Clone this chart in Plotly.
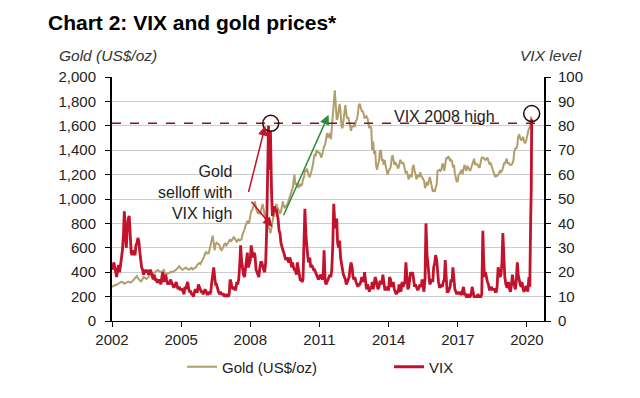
import pandas as pd
import plotly.graph_objects as go

# ---------------- data (semi-monthly: 1st and 15th of each month) ----------------
years = ["2002", "2005", "2008", "2011", "2014", "2017", "2020"]

vix = [
    # 2002
    21, 23, 24, 22, 19, 18, 21, 23, 20, 22, 26, 29, 35, 45, 33, 30, 38, 42, 43, 34, 28, 27, 29, 28,
    # 2003
    27, 31, 32, 34, 33, 29, 25, 22, 21, 19, 20, 21, 20, 21, 19, 20, 21, 20, 18, 17, 19, 17, 17, 16,
    # 2004
    16, 17, 16, 15, 18, 20, 16, 17, 19, 17, 15, 16, 15, 17, 16, 15, 14, 14, 15, 16, 14, 13, 14, 13,
    # 2005
    13, 13, 12, 11, 14, 13, 15, 16, 13, 12, 12, 11, 11, 10, 12, 13, 12, 12, 15, 14, 13, 12, 12, 11,
    # 2006
    12, 13, 12, 11, 11, 12, 11, 12, 16, 19, 22, 18, 15, 15, 13, 12, 11, 12, 11, 11, 11, 10, 11, 10,
    # 2007
    11, 10, 11, 17, 16, 14, 13, 14, 13, 13, 16, 15, 17, 22, 31, 25, 21, 19, 18, 21, 25, 28, 22, 23,
    # 2008
    25, 31, 27, 26, 28, 27, 21, 20, 19, 18, 22, 24, 24, 22, 21, 20, 24, 36, 58, 80, 62, 78, 55, 43,
    # 2009
    45, 47, 45, 46, 44, 42, 37, 36, 32, 30, 29, 28, 26, 25, 26, 25, 24, 26, 25, 22, 24, 22, 21, 21,
    # 2010
    19, 24, 21, 20, 17, 17, 16, 17, 32, 46, 35, 30, 26, 24, 26, 22, 23, 22, 21, 21, 20, 19, 18, 17,
    # 2011
    18, 19, 18, 17, 19, 29, 16, 15, 16, 17, 18, 19, 18, 21, 32, 48, 40, 38, 42, 32, 30, 33, 26, 23,
    # 2012
    21, 19, 18, 17, 15, 16, 17, 18, 22, 24, 22, 18, 17, 18, 16, 15, 14, 15, 15, 16, 18, 17, 16, 20,
    # 2013
    14, 13, 15, 13, 12, 14, 13, 16, 13, 15, 18, 17, 14, 13, 14, 16, 16, 15, 19, 15, 13, 13, 14, 13,
    # 2014
    13, 18, 17, 14, 15, 16, 13, 12, 11, 12, 12, 15, 13, 12, 16, 14, 15, 16, 24, 16, 13, 14, 17, 20,
    # 2015
    19, 20, 17, 14, 15, 14, 13, 13, 14, 15, 14, 17, 14, 12, 18, 40, 27, 23, 17, 15, 16, 17, 16, 22,
    # 2016
    24, 27, 25, 20, 16, 14, 14, 15, 14, 16, 17, 25, 14, 12, 12, 13, 14, 17, 16, 22, 14, 13, 12, 11,
    # 2017
    12, 11, 12, 11, 11, 13, 14, 11, 11, 10, 10, 11, 10, 10, 11, 14, 11, 10, 10, 10, 10, 11, 10, 10,
    # 2018
    10, 11, 37, 24, 18, 20, 17, 16, 15, 13, 13, 14, 13, 13, 13, 12, 12, 14, 22, 20, 18, 19, 24, 36,
    # 2019
    20, 18, 15, 14, 14, 16, 13, 12, 15, 19, 16, 15, 13, 16, 24, 19, 16, 15, 14, 16, 13, 12, 13, 14,
    # 2020 (Jan-Feb)
    14, 12, 18, 14,
]

gold = [
    # 2002
    279, 284, 296, 296, 292, 297, 302, 307, 312, 322, 323, 318, 316, 305, 310, 312, 318, 322, 318, 314, 318, 323, 331, 342,
    # 2003
    350, 360, 368, 352, 340, 330, 325, 330, 352, 360, 356, 348, 345, 352, 360, 370, 380, 375, 378, 385, 394, 398, 410, 413,
    # 2004
    418, 408, 402, 404, 398, 410, 418, 395, 384, 383, 392, 394, 393, 402, 400, 405, 404, 410, 415, 424, 430, 440, 450, 440,
    # 2005
    428, 422, 422, 428, 433, 438, 430, 425, 420, 425, 432, 436, 423, 425, 433, 440, 445, 462, 467, 475, 466, 480, 495, 520,
    # 2006
    530, 555, 565, 555, 552, 558, 595, 625, 680, 700, 635, 580, 630, 640, 635, 625, 620, 590, 580, 590, 625, 630, 635, 620,
    # 2007
    630, 640, 660, 670, 650, 660, 680, 690, 675, 660, 650, 660, 670, 660, 670, 670, 710, 725, 750, 780, 795, 820, 800, 810,
    # 2008
    860, 900, 910, 940, 970, 980, 920, 900, 880, 890, 880, 900, 930, 960, 910, 850, 820, 800, 840, 780, 740, 720, 760, 830,
    # 2009
    860, 860, 920, 960, 940, 920, 900, 880, 900, 950, 980, 940, 930, 940, 950, 960, 990, 1010, 1040, 1060, 1090, 1140, 1200, 1120,
    # 2010
    1120, 1130, 1090, 1110, 1120, 1110, 1120, 1160, 1180, 1230, 1230, 1250, 1210, 1190, 1180, 1220, 1240, 1270, 1310, 1370, 1350, 1400, 1390, 1380,
    # 2011
    1380, 1360, 1340, 1370, 1420, 1430, 1450, 1500, 1540, 1500, 1530, 1540, 1490, 1590, 1630, 1780, 1890, 1780, 1650, 1660, 1720, 1780, 1720, 1600,
    # 2012
    1580, 1650, 1730, 1770, 1700, 1660, 1670, 1640, 1580, 1560, 1600, 1590, 1610, 1590, 1640, 1650, 1700, 1770, 1780, 1740, 1720, 1720, 1700, 1660,
    # 2013
    1670, 1680, 1660, 1610, 1580, 1600, 1580, 1400, 1470, 1370, 1400, 1280, 1240, 1280, 1310, 1390, 1400, 1320, 1320, 1280, 1320, 1270, 1240, 1200,
    # 2014
    1230, 1250, 1260, 1320, 1360, 1330, 1280, 1300, 1290, 1270, 1250, 1270, 1320, 1310, 1290, 1300, 1280, 1240, 1210, 1230, 1180, 1160, 1200, 1190,
    # 2015
    1180, 1260, 1280, 1230, 1210, 1160, 1180, 1200, 1180, 1220, 1190, 1180, 1170, 1150, 1090, 1120, 1140, 1110, 1140, 1180, 1140, 1080, 1060, 1070,
    # 2016
    1060, 1090, 1120, 1230, 1240, 1240, 1230, 1240, 1290, 1280, 1230, 1280, 1340, 1330, 1350, 1340, 1310, 1320, 1310, 1260, 1280, 1210, 1170, 1140,
    # 2017
    1150, 1200, 1210, 1230, 1240, 1200, 1250, 1280, 1260, 1230, 1270, 1250, 1240, 1230, 1260, 1290, 1320, 1330, 1280, 1290, 1280, 1280, 1260, 1260,
    # 2018
    1310, 1340, 1340, 1330, 1320, 1320, 1330, 1340, 1310, 1290, 1300, 1280, 1250, 1240, 1210, 1180, 1200, 1190, 1200, 1210, 1230, 1220, 1230, 1250,
    # 2019
    1290, 1290, 1320, 1330, 1290, 1300, 1280, 1280, 1280, 1290, 1320, 1390, 1420, 1410, 1440, 1510, 1530, 1500, 1480, 1490, 1510, 1470, 1460, 1470,
    # 2020 (Jan-Feb)
    1520, 1550, 1580, 1585,
]

tail_dates = ["2020-02-28", "2020-03-09", "2020-03-16"]
vix_tail = [40, 54, 82.7]
gold_tail = [1640, 1675, 1660]

vix_dates = list(pd.date_range("2002-01-01", periods=len(vix), freq="SMS").strftime("%Y-%m-%d")) + tail_dates
gold_dates = list(pd.date_range("2002-01-01", periods=len(gold), freq="SMS").strftime("%Y-%m-%d")) + tail_dates
vix_all = vix + vix_tail
gold_all = gold + gold_tail

GOLD = "#B29D6C"
RED = "#C3122B"
FONT = "Liberation Sans, Arial, sans-serif"

fig = go.Figure()
fig.add_trace(go.Scatter(x=gold_dates, y=gold_all, name="Gold (US$/oz)", mode="lines",
                         line=dict(color=GOLD, width=2), yaxis="y", legend="legend"))
fig.add_trace(go.Scatter(x=vix_dates, y=vix_all, name="VIX", mode="lines",
                         line=dict(color=RED, width=2.8), yaxis="y2", legend="legend2"))

leg_common = dict(orientation="h", xref="container", yref="container", xanchor="left",
                  y=1 - 367 / 398, yanchor="middle", font=dict(size=15, color="#222"),
                  bgcolor="rgba(0,0,0,0)", borderwidth=0)

fig.update_layout(
    width=640, height=398,
    margin=dict(l=112, r=96, t=77, b=77, autoexpand=False),
    paper_bgcolor="white", plot_bgcolor="white",
    font=dict(family=FONT, size=14, color="#222"),
    title=dict(text="<b>Chart 2: VIX and gold prices*</b>", x=48 / 640, xanchor="left",
               xref="container", y=1 - 23 / 398, yanchor="middle", yref="container",
               pad=dict(l=0, r=0, t=0, b=0),
               font=dict(family=FONT, size=21, color="black")),
    showlegend=True,
    legend=dict(x=182 / 640, **leg_common),
    legend2=dict(x=389 / 640, **leg_common),
    xaxis=dict(type="date", range=["2002-01-01", "2020-09-27"],
               tickvals=[f"{y}-01-01" for y in years], ticktext=years,
               ticks="outside", ticklen=5, tickcolor="black", showline=True,
               linecolor="black", linewidth=1, showgrid=False, zeroline=False,
               tickfont=dict(size=15, color="#222")),
    yaxis=dict(range=[0, 2000], dtick=200, tickformat=",d", ticks="outside", ticklen=5,
               tickcolor="black", showline=True, linecolor="black", linewidth=2,
               gridcolor="#cccccc", gridwidth=1, zeroline=False, ticklabelstandoff=6,
               tickfont=dict(size=15, color="#222")),
    yaxis2=dict(range=[0, 100], dtick=10, overlaying="y", side="right", ticks="outside",
                ticklen=5, tickcolor="black", showline=True, linecolor="black", linewidth=2,
                showgrid=False, zeroline=False, ticklabelstandoff=4,
                tickfont=dict(size=15, color="#222")),
)

# dashed VIX 2008 high line
fig.add_shape(type="line", xref="paper", x0=0, x1=1, yref="y", y0=1620, y1=1620,
              line=dict(color="#7A1A1A", width=1.5, dash="dash"))

# circles
for xa, ya in [("2008-11-20", 81), ("2020-03-16", 85)]:
    fig.add_shape(type="circle", xref="x", yref="y2", xsizemode="pixel", ysizemode="pixel",
                  xanchor=xa, yanchor=ya, x0=-8, x1=8, y0=-8, y1=8,
                  line=dict(color="#2A0A0A", width=1.5))

# arrows
arrows = [
    ("2008-08-25", 1600, "2007-11-28", 1045, RED),
    ("2008-12-15", 770, "2008-01-01", 990, RED),
    ("2011-05-25", 1690, "2009-06-01", 855, "#2E8B3A"),
]
for x, y, ax, ay, c in arrows:
    fig.add_annotation(x=x, y=y, xref="x", yref="y", ax=ax, ay=ay, axref="x", ayref="y",
                       showarrow=True, arrowhead=2, arrowsize=1.3, arrowwidth=1.5,
                       arrowcolor=c, text="")

# texts
fig.add_annotation(x="2016-06-05", y=1680, xref="x", yref="y", text="VIX 2008 high",
                   showarrow=False, font=dict(size=16, color="#222"))
fig.add_annotation(x="2007-04-20", y=1057, xref="x", yref="y",
                   text="Gold<br>selloff with<br>VIX high", align="right", xanchor="right",
                   showarrow=False, font=dict(size=16, color="#222"))
fig.add_annotation(x=(57 - 112) / 432, y=(321 - 56) / 244, xref="paper", yref="paper",
                   text="<i>Gold (US$/oz)</i>", xanchor="left", yanchor="middle",
                   showarrow=False, font=dict(size=15.5, color="#333"))
fig.add_annotation(x=(584 - 112) / 432, y=(321 - 56) / 244, xref="paper", yref="paper",
                   text="<i>VIX level</i>", xanchor="right", yanchor="middle",
                   showarrow=False, font=dict(size=15.5, color="#333"))

fig.write_html("out.html", config={"displayModeBar": False},
               post_script="document.body.style.margin='0';")
